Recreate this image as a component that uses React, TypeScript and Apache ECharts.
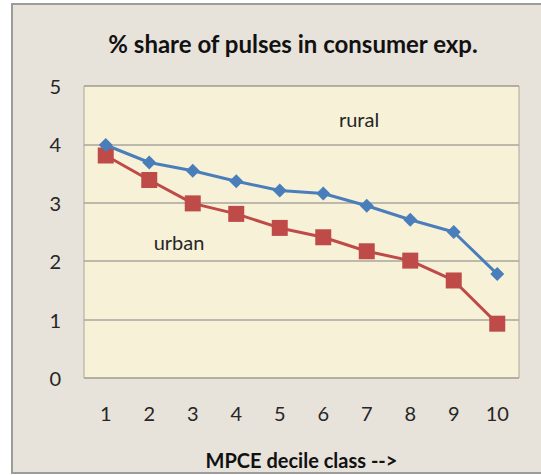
import React, { useEffect, useRef } from "react";
import * as echarts from "echarts";

const categories = ["1", "2", "3", "4", "5", "6", "7", "8", "9", "10"];
const rural = [3.99, 3.69, 3.55, 3.37, 3.21, 3.16, 2.95, 2.71, 2.5, 1.78];
const urban = [3.81, 3.39, 2.99, 2.81, 2.57, 2.41, 2.17, 2.01, 1.67, 0.93];
const titleText = "% share of pulses in consumer exp.";
const xAxisName = "MPCE decile class -->";

const FONT = "Lato, 'Open Sans', 'DejaVu Sans', sans-serif";

export default function App() {
  const ref = useRef<HTMLDivElement>(null);
  useEffect(() => {
    const chart = echarts.init(ref.current!, null, { renderer: "svg" });
    chart.setOption({
      animation: false,
      backgroundColor: "#ffffff",
      graphic: [
        {
          type: "rect",
          z: -10,
          shape: { x: 12, y: 4, width: 540, height: 469 },
          style: { fill: "#e7e2da", stroke: "#9c9c9c", lineWidth: 2 },
        },
        {
          type: "text",
          x: 293,
          y: 43,
          style: {
            text: titleText,
            fontFamily: FONT,
            fontWeight: "bold",
            fontSize: 24,
            fill: "#111111",
            textAlign: "center",
            textVerticalAlign: "middle",
          },
        },
        {
          type: "text",
          x: 359,
          y: 119,
          z: 10,
          style: {
            text: "rural",
            fontFamily: FONT,
            fontSize: 20,
            fill: "#262626",
            textAlign: "center",
            textVerticalAlign: "middle",
          },
        },
        {
          type: "text",
          x: 179,
          y: 242,
          z: 10,
          style: {
            text: "urban",
            fontFamily: FONT,
            fontSize: 20,
            fill: "#262626",
            textAlign: "center",
            textVerticalAlign: "middle",
          },
        },
      ],
      grid: {
        left: 84,
        top: 86,
        width: 435,
        height: 305,
        show: true,
        backgroundColor: "#f7f1d8",
        borderColor: "#aaa79c",
        borderWidth: 1,
      },
      xAxis: {
        type: "category",
        data: categories,
        boundaryGap: true,
        axisLine: { show: false },
        axisTick: { show: false },
        axisLabel: {
          margin: 25,
          fontSize: 20,
          color: "#262626",
          fontFamily: FONT,
        },
        name: xAxisName,
        nameLocation: "middle",
        nameGap: 72,
        nameTextStyle: {
          fontSize: 20,
          fontWeight: "bold",
          color: "#111111",
          fontFamily: FONT,
        },
      },
      yAxis: {
        type: "value",
        min: 0,
        max: 5,
        interval: 1,
        axisLine: { show: false },
        axisTick: { show: false },
        axisLabel: {
          margin: 23,
          fontSize: 20,
          color: "#262626",
          fontFamily: FONT,
        },
        splitLine: { lineStyle: { color: "#a8a69e", width: 1.5 } },
      },
      series: [
        {
          name: "rural",
          type: "line",
          data: rural,
          symbol: "diamond",
          symbolSize: 14,
          lineStyle: { color: "#4a7ebb", width: 3 },
          itemStyle: { color: "#4a7ebb" },
          z: 3,
        },
        {
          name: "urban",
          type: "line",
          data: urban,
          symbol: "rect",
          symbolSize: 16,
          lineStyle: { color: "#be4b48", width: 3 },
          itemStyle: { color: "#be4b48" },
          z: 2,
        },
      ],
    });
    return () => chart.dispose();
  }, []);
  return (
    <div
      ref={ref}
      style={{ position: "fixed", left: 0, top: 0, width: 541, height: 475 }}
    />
  );
}
